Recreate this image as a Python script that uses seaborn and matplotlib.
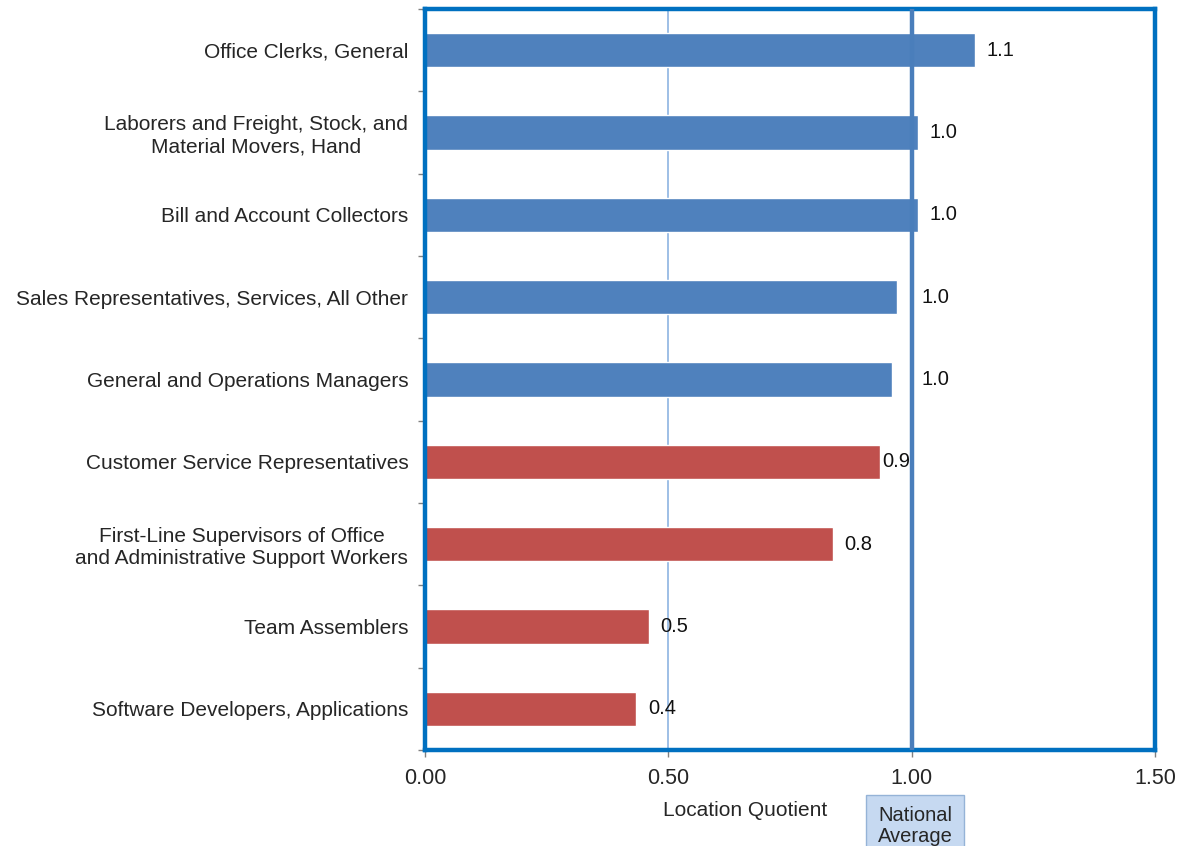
import matplotlib
matplotlib.use("Agg")
import matplotlib.pyplot as plt
import seaborn as sns
import pandas as pd
import numpy as np

occupations = [
    "Office Clerks, General",
    "Laborers and Freight, Stock, and\nMaterial Movers, Hand",
    "Bill and Account Collectors",
    "Sales Representatives, Services, All Other",
    "General and Operations Managers",
    "Customer Service Representatives",
    "First-Line Supervisors of Office\nand Administrative Support Workers",
    "Team Assemblers",
    "Software Developers, Applications",
]
quotients = [1.13, 1.013, 1.013, 0.97, 0.96, 0.935, 0.838, 0.46, 0.434]
groups = ["high"] * 5 + ["low"] * 4
x_ticks = [0.0, 0.5, 1.0, 1.5]

df = pd.DataFrame({"occ": occupations, "lq": quotients, "grp": groups})

sns.set_style("white")
plt.rcParams["font.family"] = ["Liberation Sans", "DejaVu Sans"]

fig = plt.figure(figsize=(11.79, 8.46), dpi=100)
ax = fig.add_axes([425 / 1179, 1 - 750 / 846, 730 / 1179, 741 / 846])

sns.barplot(
    data=df, x="lq", y="occ", hue="grp", dodge=False, orient="h",
    palette={"high": "#4F81BD", "low": "#C0504D"}, width=0.42,
    legend=False, ax=ax, saturation=1,
)

ax.set_xlim(0, 1.5)
ax.set_ylim(len(occupations) - 0.5, -0.5)
ax.axvline(0.5, color="#8DB4E2", lw=1.2, zorder=0)
ax.axvline(1.0, color="#4A7EBB", lw=3.2, zorder=3)

# value labels, nudged so they don't sit on the national average line
for i, v in enumerate(quotients):
    txt = f"{v:.1f}"
    if 0.95 <= v < 1.0:
        xpos, off = 1.0, 7
    elif 0.9 <= v < 0.95:
        xpos, off = v, 1.5
    else:
        xpos, off = v, 8.5
    ax.annotate(txt, (xpos, i), xytext=(off, 0), textcoords="offset points",
                ha="left", va="center", fontsize=14.5, color="#111111")

for s in ax.spines.values():
    s.set_visible(True)
    s.set_color("#0070C0")
    s.set_linewidth(3.2)

ax.set_xticks(x_ticks)
ax.set_xticklabels([f"{t:.2f}" for t in x_ticks], fontsize=15.5)
ax.set_yticks(range(len(occupations)))
ax.set_yticklabels(occupations, fontsize=15, ha="right", multialignment="center")
ax.set_yticks(np.arange(-0.5, len(occupations), 1.0), minor=True)
ax.tick_params(axis="y", which="major", left=False, length=0, pad=12)
ax.tick_params(axis="y", which="minor", left=True, length=5, color="#808080", width=1)
ax.tick_params(axis="x", which="major", bottom=True, length=5, color="#808080",
               width=1, pad=8)

ax.set_xlabel("")
ax.set_ylabel("")
fig.text(745 / 1179, 1 - 810 / 846, "Location Quotient", ha="center", va="center",
         fontsize=15)
fig.text(915 / 1179, 1 - 826 / 846, "National\nAverage", ha="center", va="center",
         fontsize=14.5, linespacing=1.15,
         bbox=dict(boxstyle="square,pad=0.55", fc="#C6D9F1", ec="#95B3D7", lw=1))

fig.savefig("out.png", dpi=100)
